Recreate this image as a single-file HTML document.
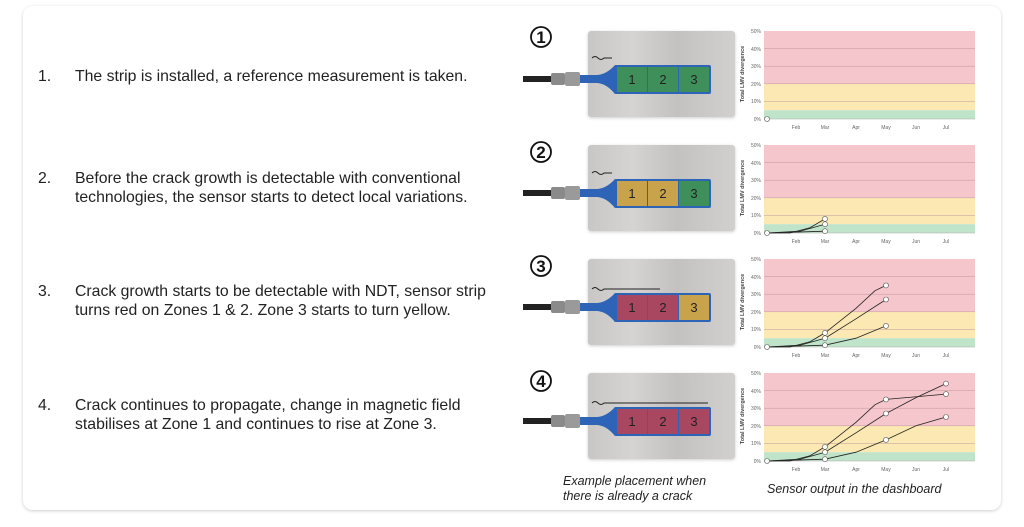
<!DOCTYPE html>
<html><head><meta charset="utf-8"><style>
html,body{margin:0;padding:0;background:#fff;width:1024px;height:527px;overflow:hidden}
svg{display:block}
.t{font-family:"Liberation Sans",sans-serif;font-size:15.8px;fill:#222}
.ax{font-family:"Liberation Sans",sans-serif;font-size:5px;fill:#666}
.yt{font-family:"Liberation Sans",sans-serif;font-size:5.5px;font-weight:bold;fill:#444}
.cap{font-family:"Liberation Sans",sans-serif;font-size:12.5px;font-style:italic;fill:#222}
.num{font-family:"Liberation Sans",sans-serif;font-size:17px;font-weight:bold;fill:#111}
</style></head><body>
<svg width="1024" height="527" viewBox="0 0 1024 527" xmlns="http://www.w3.org/2000/svg">
<defs>
<filter id="sh" x="-5%" y="-5%" width="110%" height="110%"><feDropShadow dx="0" dy="1" stdDeviation="1.5" flood-color="#000" flood-opacity="0.2"/></filter>
<linearGradient id="metal" x1="0" y1="0" x2="1" y2="0">
<stop offset="0" stop-color="#c9c7c5"/><stop offset="0.3" stop-color="#d6d4d2"/><stop offset="0.6" stop-color="#c4c2c0"/><stop offset="1" stop-color="#d2d0ce"/></linearGradient>
<g id="chart">
<rect x="764" y="0" width="211" height="52.8" fill="#f5c6cc" stroke="none"/>
<rect x="764" y="52.8" width="211" height="26.4" fill="#fbe8b2" stroke="none"/>
<rect x="764" y="79.2" width="211" height="8.8" fill="#bfe4c9" stroke="none"/>
<g stroke="#c4979d" stroke-width="0.5">
<line x1="764" y1="17.6" x2="975" y2="17.6"/><line x1="764" y1="35.2" x2="975" y2="35.2"/><line x1="764" y1="52.8" x2="975" y2="52.8"/><line x1="764" y1="70.4" x2="975" y2="70.4"/>
</g>
<line x1="764" y1="88" x2="975" y2="88" stroke="#aaa" stroke-width="0.6"/>
</g>
<g id="plate">
<rect x="588" y="0" width="147" height="86" rx="3" fill="url(#metal)" filter="url(#sh)"/>
<rect x="523" y="45" width="30" height="6" fill="#222"/>
<rect x="551" y="42" width="14" height="12" rx="2" fill="#8a8a8a"/>
<rect x="565" y="41" width="15" height="14" rx="2" fill="#9a9a9a"/>
<path d="M580 44 L596 44 Q606 44 615 34 L615 63 Q606 52 596 52 L580 52 Z" fill="#2d64b8"/>
<rect x="614" y="34" width="97" height="29" rx="2" fill="#2d64b8"/>
</g>
</defs>
<rect x="23" y="6" width="978" height="504" rx="10" fill="#fff" filter="url(#sh)"/>

<text class="t" x="38" y="81">1.</text><text class="t" x="75" y="81">The strip is installed, a reference measurement is taken.</text>
<text class="t" x="38" y="183">2.</text><text class="t" x="75" y="183">Before the crack growth is detectable with conventional</text>
<text class="t" x="75" y="202">technologies, the sensor starts to detect local variations.</text>
<text class="t" x="38" y="296">3.</text><text class="t" x="75" y="296">Crack growth starts to be detectable with NDT, sensor strip</text>
<text class="t" x="75" y="315">turns red on Zones 1 &amp; 2. Zone 3 starts to turn yellow.</text>
<text class="t" x="38" y="410">4.</text><text class="t" x="75" y="410">Crack continues to propagate, change in magnetic field</text>
<text class="t" x="75" y="429">stabilises at Zone 1 and continues to rise at Zone 3.</text>

<g transform="translate(0,31)"><use href="#plate"/>
<rect x="617" y="36" width="30" height="25" fill="#3f8f5b"/><rect x="648" y="36" width="30" height="25" fill="#3f8f5b"/><rect x="679" y="36" width="30" height="25" fill="#3f8f5b"/>
<path d="M592 27 q3 -3 6 0 t6 0 l8 0" stroke="#222" fill="none" stroke-width="1"/></g>
<g transform="translate(0,145)"><use href="#plate"/>
<rect x="617" y="36" width="30" height="25" fill="#c9a34c"/><rect x="648" y="36" width="30" height="25" fill="#c9a34c"/><rect x="679" y="36" width="30" height="25" fill="#3f8f5b"/>
<path d="M592 28 q3 -3 6 0 t6 0 l8 0" stroke="#222" fill="none" stroke-width="1"/></g>
<g transform="translate(0,259)"><use href="#plate"/>
<rect x="617" y="36" width="30" height="25" fill="#a94660"/><rect x="648" y="36" width="30" height="25" fill="#a94660"/><rect x="679" y="36" width="30" height="25" fill="#c9a34c"/>
<path d="M592 30 q3 -3 6 0 t6 0 l56 0" stroke="#222" fill="none" stroke-width="1"/></g>
<g transform="translate(0,373)"><use href="#plate"/>
<rect x="617" y="36" width="30" height="25" fill="#a94660"/><rect x="648" y="36" width="30" height="25" fill="#a94660"/><rect x="679" y="36" width="30" height="25" fill="#a94660"/>
<path d="M592 30 q3 -3 6 0 t6 0 l104 0" stroke="#222" fill="none" stroke-width="1"/></g>
<g font-family="Liberation Sans" font-size="13" fill="#222" text-anchor="middle">
<text x="632" y="84">1</text><text x="663" y="84">2</text><text x="694" y="84">3</text>
<text x="632" y="198">1</text><text x="663" y="198">2</text><text x="694" y="198">3</text>
<text x="632" y="312">1</text><text x="663" y="312">2</text><text x="694" y="312">3</text>
<text x="632" y="426">1</text><text x="663" y="426">2</text><text x="694" y="426">3</text>
</g>
<g fill="#fff" stroke="#111" stroke-width="1.8">
<circle cx="541" cy="37" r="10"/><circle cx="541" cy="152" r="10"/><circle cx="541" cy="266" r="10"/><circle cx="541" cy="381" r="10"/></g>
<g class="num" text-anchor="middle">
<text x="541" y="43">1</text><text x="541" y="158">2</text><text x="541" y="272">3</text><text x="541" y="387">4</text></g>

<use href="#chart" transform="translate(0,31)"/>
<use href="#chart" transform="translate(0,145)"/>
<use href="#chart" transform="translate(0,259)"/>
<use href="#chart" transform="translate(0,373)"/>
<g fill="none" stroke="#222" stroke-width="0.8">
<g transform="translate(0,145)">
<polyline points="767,88 790,88 810,82.7 825,73.9"/><polyline points="767,88 800,86.2 825,79.2"/><polyline points="767,88 825,86.2"/></g>
<g transform="translate(0,259)">
<polyline points="767,88 790,88 810,82.7 825,73.9 856,49.3 875,31.7 886,26.4"/><polyline points="767,88 800,86.2 825,79.2 856,59.8 886,40.5"/><polyline points="767,88 825,86.2 856,79.2 886,66.9"/></g>
<g transform="translate(0,373)">
<polyline points="767,88 790,88 810,82.7 825,73.9 856,49.3 875,31.7 886,26.4 946,21.1"/><polyline points="767,88 800,86.2 825,79.2 856,59.8 886,40.5 916,24.6 946,10.6"/><polyline points="767,88 825,86.2 856,79.2 886,66.9 916,52.8 946,44"/></g>
</g>
<g fill="#fff" stroke="#555" stroke-width="0.6">
<circle cx="767" cy="119" r="2.5"/>
<circle cx="767" cy="233" r="2.5"/><circle cx="825" cy="218.9" r="2.5"/><circle cx="825" cy="224.2" r="2.5"/><circle cx="825" cy="231.2" r="2.5"/>
<circle cx="767" cy="347" r="2.5"/><circle cx="825" cy="332.9" r="2.5"/><circle cx="825" cy="338.2" r="2.5"/><circle cx="825" cy="345.2" r="2.5"/>
<circle cx="886" cy="285.4" r="2.5"/><circle cx="886" cy="299.5" r="2.5"/><circle cx="886" cy="325.9" r="2.5"/>
<circle cx="767" cy="461" r="2.5"/><circle cx="825" cy="446.9" r="2.5"/><circle cx="825" cy="452.2" r="2.5"/><circle cx="825" cy="459.2" r="2.5"/>
<circle cx="886" cy="399.4" r="2.5"/><circle cx="886" cy="413.5" r="2.5"/><circle cx="886" cy="439.9" r="2.5"/>
<circle cx="946" cy="394.1" r="2.5"/><circle cx="946" cy="383.6" r="2.5"/><circle cx="946" cy="417" r="2.5"/>
</g>

<g class="ax" text-anchor="end">
<text x="761" y="33">50%</text><text x="761" y="51">40%</text><text x="761" y="68">30%</text><text x="761" y="86">20%</text><text x="761" y="103">10%</text><text x="761" y="121">0%</text>
<text x="761" y="147">50%</text><text x="761" y="165">40%</text><text x="761" y="182">30%</text><text x="761" y="200">20%</text><text x="761" y="217">10%</text><text x="761" y="235">0%</text>
<text x="761" y="261">50%</text><text x="761" y="279">40%</text><text x="761" y="296">30%</text><text x="761" y="314">20%</text><text x="761" y="331">10%</text><text x="761" y="349">0%</text>
<text x="761" y="375">50%</text><text x="761" y="393">40%</text><text x="761" y="410">30%</text><text x="761" y="428">20%</text><text x="761" y="445">10%</text><text x="761" y="463">0%</text>
</g>
<g class="ax" text-anchor="middle">
<text x="796" y="129">Feb</text><text x="825" y="129">Mar</text><text x="856" y="129">Apr</text><text x="886" y="129">May</text><text x="916" y="129">Jun</text><text x="946" y="129">Jul</text>
<text x="796" y="243">Feb</text><text x="825" y="243">Mar</text><text x="856" y="243">Apr</text><text x="886" y="243">May</text><text x="916" y="243">Jun</text><text x="946" y="243">Jul</text>
<text x="796" y="357">Feb</text><text x="825" y="357">Mar</text><text x="856" y="357">Apr</text><text x="886" y="357">May</text><text x="916" y="357">Jun</text><text x="946" y="357">Jul</text>
<text x="796" y="471">Feb</text><text x="825" y="471">Mar</text><text x="856" y="471">Apr</text><text x="886" y="471">May</text><text x="916" y="471">Jun</text><text x="946" y="471">Jul</text>
</g>
<g class="yt" text-anchor="middle">
<text transform="translate(744,74) rotate(-90)">Total LMV divergence</text>
<text transform="translate(744,188) rotate(-90)">Total LMV divergence</text>
<text transform="translate(744,302) rotate(-90)">Total LMV divergence</text>
<text transform="translate(744,416) rotate(-90)">Total LMV divergence</text>
</g>

<text class="cap" x="563" y="485">Example placement when</text>
<text class="cap" x="563" y="500">there is already a crack</text>
<text class="cap" x="767" y="493">Sensor output in the dashboard</text>
</svg>
</body></html>
